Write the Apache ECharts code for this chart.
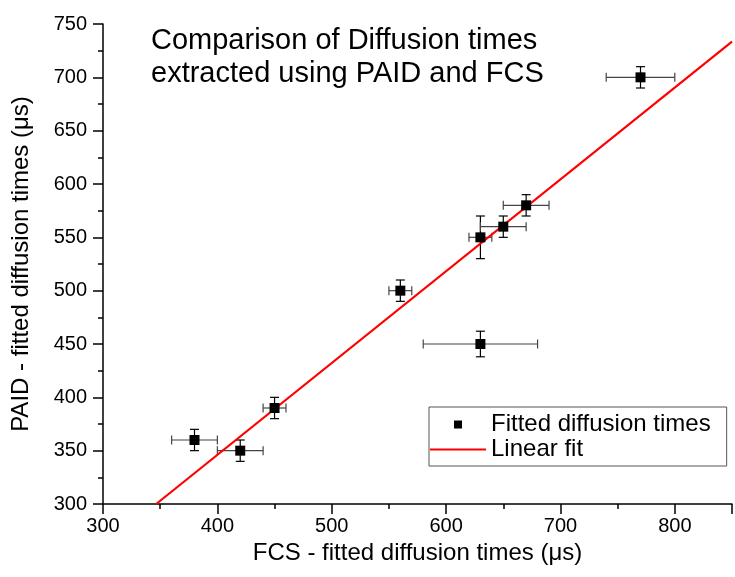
<!DOCTYPE html>
<html>
<head>
<meta charset="utf-8">
<script src="https://cdn.jsdelivr.net/npm/echarts@6/dist/echarts.min.js"></script>
<style>
  html, body { margin: 0; padding: 0; background: #fff; }
  #chart { width: 735px; height: 577px; }
</style>
</head>
<body>
<div id="chart"></div>
<script>
// FCS vs PAID diffusion times (μs) and their error bars
const fcsTimes = [380, 420, 450, 560, 630, 630, 650, 670, 770];
const paidTimes = [360, 350, 390, 500, 550, 450, 560, 580, 700];
const fcsErr = [20, 20, 10, 10, 10, 50, 20, 20, 30];
const paidErr = [10, 10, 10, 10, 20, 12, 10, 10, 10];
// linear fit end points
const fitX = [346.5, 850];
const fitY = [300, 733.5];

const font = 'Liberation Sans, Arial, sans-serif';

const chart = echarts.init(document.getElementById('chart'));

const points = fcsTimes.map((x, i) => [x, paidTimes[i]]);
const errData = fcsTimes.map((x, i) => [x, paidTimes[i], fcsErr[i], paidErr[i]]);
const fitData = fitX.map((x, i) => [x, fitY[i]]);

// legend icons: small square centred in the slot, and a thin line across it
const squareIcon = 'path://M0,4L0,4M56,4L56,4M24,0L32,0L32,8L24,8Z';
const lineIcon = 'path://M0,0L0,0M0,8L0,8M0,2.9L56,2.9L56,5.1L0,5.1Z';

const option = {
  animation: false,
  backgroundColor: '#fff',
  textStyle: { fontFamily: font, color: '#000' },
  title: {
    text: 'Comparison of Diffusion times\nextracted using PAID and FCS',
    left: 151,
    top: 24,
    padding: 0,
    textStyle: { fontFamily: font, fontSize: 29, fontWeight: 'normal', color: '#000', lineHeight: 33 }
  },
  legend: {
    data: [
      { name: 'Fitted diffusion times', icon: squareIcon },
      { name: 'Linear fit', icon: lineIcon }
    ],
    orient: 'vertical',
    left: 429,
    top: 407,
    padding: [5, 16, 4, 1],
    itemGap: 0,
    itemWidth: 56,
    itemHeight: 8,
    borderColor: '#555',
    borderWidth: 1,
    borderRadius: 0,
    textStyle: { fontFamily: font, fontSize: 24, color: '#000', lineHeight: 25 }
  },
  grid: { left: 103, right: -2, top: 24, bottom: 73 },
  xAxis: {
    type: 'value',
    min: 300,
    max: 850,
    interval: 100,
    name: 'FCS - fitted diffusion times (μs)',
    nameLocation: 'middle',
    nameGap: 35,
    nameTextStyle: { fontFamily: font, fontSize: 24, color: '#000' },
    splitLine: { show: false },
    axisLine: { lineStyle: { color: '#000', width: 1.5 } },
    axisTick: { inside: false, length: 10, lineStyle: { color: '#000', width: 1.5 } },
    minorTick: { show: true, splitNumber: 2, length: 5, lineStyle: { color: '#000', width: 1.5 } },
    axisLabel: { fontFamily: font, fontSize: 20, color: '#000', margin: 12,
      formatter: v => (v > 800 ? '' : v) }
  },
  yAxis: {
    type: 'value',
    min: 300,
    max: 750,
    interval: 50,
    name: 'PAID - fitted diffusion times (μs)',
    nameLocation: 'middle',
    nameGap: 70,
    nameTextStyle: { fontFamily: font, fontSize: 24, color: '#000' },
    splitLine: { show: false },
    axisLine: { lineStyle: { color: '#000', width: 1.5 } },
    axisTick: { inside: false, length: 10, lineStyle: { color: '#000', width: 1.5 } },
    minorTick: { show: true, splitNumber: 2, length: 5, lineStyle: { color: '#000', width: 1.5 } },
    axisLabel: { fontFamily: font, fontSize: 20, color: '#000', margin: 16 }
  },
  series: [
    {
      name: 'errors',
      type: 'custom',
      z: 1,
      data: errData,
      renderItem: function (params, api) {
        const x = api.value(0), y = api.value(1);
        const ex = api.value(2), ey = api.value(3);
        const l = api.coord([x - ex, y]);
        const r = api.coord([x + ex, y]);
        const t = api.coord([x, y + ey]);
        const b = api.coord([x, y - ey]);
        const cap = 4.5;
        const hStyle = { stroke: '#444', lineWidth: 1.2 };
        const vStyle = { stroke: '#000', lineWidth: 1.2 };
        return {
          type: 'group',
          children: [
            { type: 'line', shape: { x1: l[0], y1: l[1], x2: r[0], y2: r[1] }, style: hStyle },
            { type: 'line', shape: { x1: l[0], y1: l[1] - cap, x2: l[0], y2: l[1] + cap }, style: hStyle },
            { type: 'line', shape: { x1: r[0], y1: r[1] - cap, x2: r[0], y2: r[1] + cap }, style: hStyle },
            { type: 'line', shape: { x1: t[0], y1: t[1], x2: b[0], y2: b[1] }, style: vStyle },
            { type: 'line', shape: { x1: t[0] - cap, y1: t[1], x2: t[0] + cap, y2: t[1] }, style: vStyle },
            { type: 'line', shape: { x1: b[0] - cap, y1: b[1], x2: b[0] + cap, y2: b[1] }, style: vStyle }
          ]
        };
      }
    },
    {
      name: 'Linear fit',
      type: 'line',
      z: 2,
      data: fitData,
      symbol: 'none',
      showSymbol: false,
      lineStyle: { color: '#ff0000', width: 2.2 },
      itemStyle: { color: '#ff0000' }
    },
    {
      name: 'Fitted diffusion times',
      type: 'scatter',
      z: 3,
      data: points,
      symbol: 'rect',
      symbolSize: 10,
      itemStyle: { color: '#000', opacity: 1 }
    }
  ]
};

chart.setOption(option);
</script>
</body>
</html>
